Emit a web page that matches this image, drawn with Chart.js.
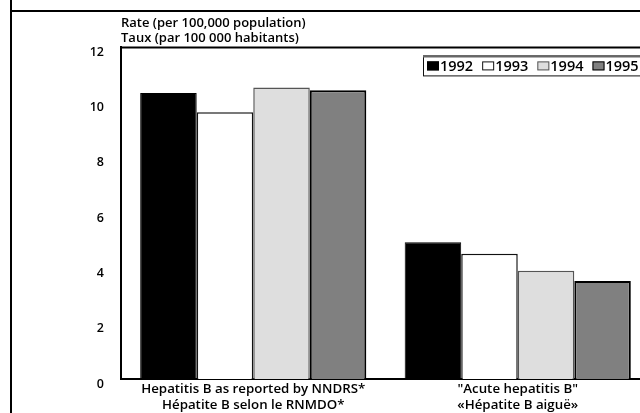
<!DOCTYPE html>
<html>
<head>
<meta charset="utf-8">
<script src="https://cdn.jsdelivr.net/npm/chart.js@4/dist/chart.umd.min.js"></script>
<style>
  html, body { margin: 0; padding: 0; width: 640px; height: 413px; overflow: hidden; background: #fff; }
  #frameV { position: absolute; left: 10px; top: 0; width: 2px; height: 413px; background: #000; }
  #frameH { position: absolute; left: 10px; top: 10px; width: 640px; height: 2px; background: #000; }
  #wrap { position: absolute; left: 0; top: 0; width: 650px; height: 413px; }
</style>
</head>
<body>
<div id="wrap"><canvas id="c" width="650" height="413"></canvas></div>
<div id="frameV"></div>
<div id="frameH"></div>
<script>
const categories = [
  ["Hepatitis B as reported by NNDRS*", "Hépatite B selon le RNMDO*"],
  ["\"Acute hepatitis B\"", "«Hépatite B aiguë»"]
];
const years = ["1992", "1993", "1994", "1995"];
const rate1992 = [10.35, 4.95];
const rate1993 = [9.65, 4.53];
const rate1994 = [10.55, 3.92];
const rate1995 = [10.45, 3.55];
const axisTitle = ["Rate (per 100,000 population)", "Taux (par 100 000 habitants)"];

const FONT = "'Open Sans', sans-serif";

// Top border of plot area + in-plot legend box drawn from the dataset styles
const frameAndLegend = {
  id: 'frameAndLegend',
  afterDatasetsDraw(chart) {
    const ctx = chart.ctx, a = chart.chartArea;
    ctx.save();
    ctx.strokeStyle = '#000';
    ctx.lineWidth = 2;
    ctx.beginPath();
    ctx.moveTo(a.left - 1, a.top);
    ctx.lineTo(a.right + 2, a.top);
    ctx.stroke();

    // legend
    const left = a.right - 227, top = a.top + 8, h = 20;
    ctx.fillStyle = '#fff';
    ctx.fillRect(left, top, a.right - left + 5, h);
    ctx.strokeStyle = '#111';
    ctx.lineWidth = 1;
    ctx.strokeRect(left + 0.5, top + 0.5, a.right - left + 5, h);
    ctx.strokeStyle = '#666';
    ctx.lineWidth = 2;
    ctx.beginPath();
    ctx.moveTo(left, top + 1); ctx.lineTo(a.right + 6, top + 1);
    ctx.stroke();

    ctx.font = "600 14.5px " + FONT;
    ctx.textBaseline = 'middle';
    ctx.textAlign = 'left';
    let x = left + 4;
    const cy = top + h / 2 + 1;
    chart.data.datasets.forEach(ds => {
      ctx.fillStyle = ds.backgroundColor;
      ctx.fillRect(x, cy - 5, 12, 9);
      ctx.strokeStyle = ds.borderColor;
      ctx.lineWidth = 1;
      ctx.strokeRect(x + 0.5, cy - 4.5, 11, 8);
      ctx.fillStyle = '#000';
      ctx.fillText(ds.label, x + 13, cy);
      x += 13 + ctx.measureText(ds.label).width + 9;
    });
    ctx.restore();
  }
};

new Chart(document.getElementById('c'), {
  type: 'bar',
  data: {
    labels: categories,
    datasets: [
      { label: years[0], data: rate1992, backgroundColor: '#000000', borderColor: '#000000', borderWidth: 1 },
      { label: years[1], data: rate1993, backgroundColor: '#ffffff', borderColor: '#111111', borderWidth: 1.5 },
      { label: years[2], data: rate1994, backgroundColor: '#dedede', borderColor: '#555555', borderWidth: 1.5 },
      { label: years[3], data: rate1995, backgroundColor: '#808080', borderColor: '#000000', borderWidth: 2 }
    ]
  },
  options: {
    responsive: false,
    animation: false,
    devicePixelRatio: 1,
    layout: { padding: { top: 0, left: 0, right: 0, bottom: 0 } },
    categoryPercentage: 0.855,
    barPercentage: 1.0,
    plugins: {
      tooltip: { enabled: false },
      legend: { display: false },
      title: {
        display: true,
        text: axisTitle,
        align: 'start',
        fullSize: false,
        color: '#000',
        font: { family: FONT, size: 13, weight: '600', lineHeight: 1.15 },
        padding: { top: 16, bottom: 1.5 }
      }
    },
    scales: {
      x: {
        grid: { display: false, drawTicks: false },
        border: { display: true, color: '#000', width: 2 },
        ticks: {
          color: '#000',
          font: { family: FONT, size: 13.3, weight: '600', lineHeight: 1.2 },
          padding: 2,
          maxRotation: 0,
          autoSkip: false
        },
        afterFit(s) { s.height = 34; }
      },
      y: {
        min: 0, max: 12,
        grid: { display: false, drawTicks: false },
        border: { display: true, color: '#000', width: 2 },
        ticks: {
          stepSize: 2,
          color: '#000',
          font: { family: FONT, size: 12.5, weight: '600' },
          padding: 17,
          labelOffset: 5
        },
        afterFit(s) { s.width = 121; }
      }
    }
  },
  plugins: [frameAndLegend]
});
</script>
</body>
</html>
